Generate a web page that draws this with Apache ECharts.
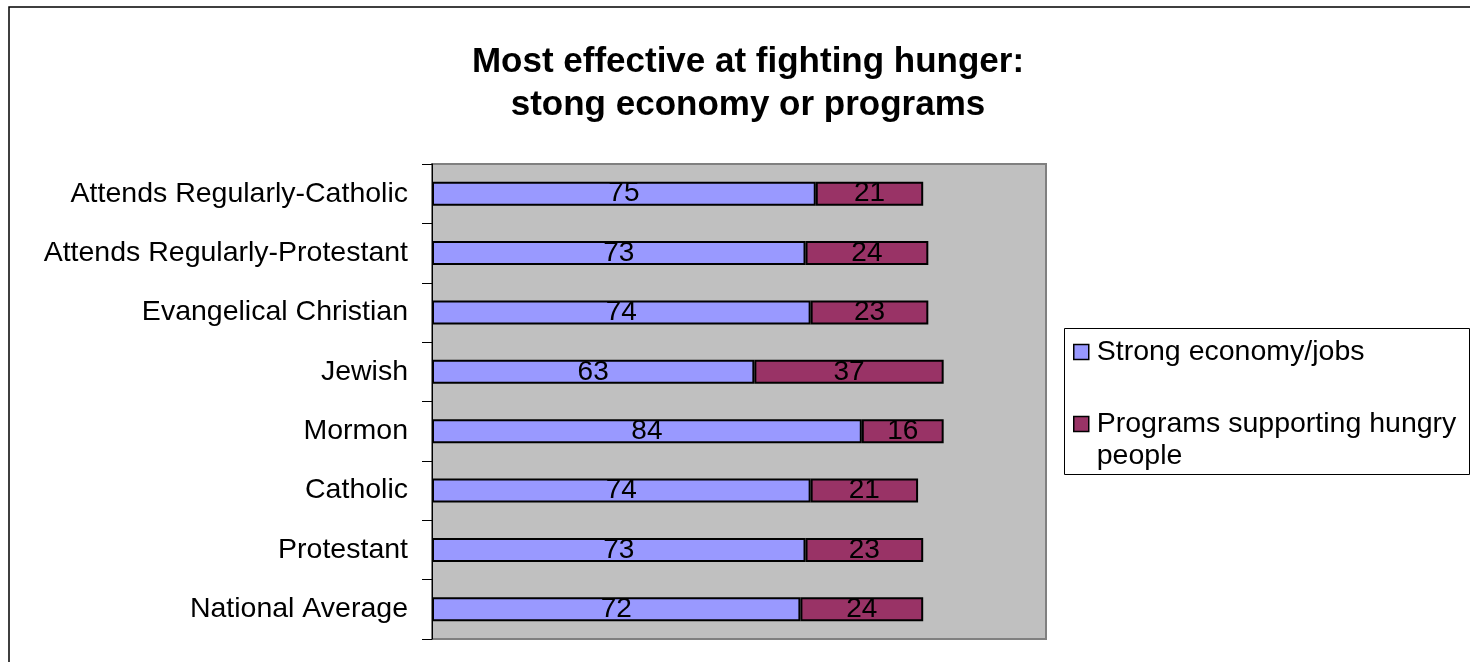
<!DOCTYPE html>
<html>
<head>
<meta charset="utf-8">
<script src="https://cdn.jsdelivr.net/npm/echarts@6/dist/echarts.min.js"></script>
<style>
html,body{margin:0;padding:0;background:#fff;}
#c{width:1470px;height:662px;}
</style>
</head>
<body>
<div id="c"></div>
<script>
const categories = ['National Average','Protestant','Catholic','Mormon','Jewish','Evangelical Christian','Attends Regularly-Protestant','Attends Regularly-Catholic'];
const economyJobs = [72,73,74,84,63,74,73,75];
const programs = [24,23,21,16,37,23,24,21];
const seriesNames = ['Strong economy/jobs','Programs supporting hungry people'];
const titleText = 'Most effective at fighting hunger:\nstong economy or programs';

const FONT = '"Liberation Sans", Arial, Helvetica, sans-serif';
const chart = echarts.init(document.getElementById('c'));
const labelCfg = {show:true, position:'inside', color:'#000', fontSize:28, fontFamily:FONT, offset:[0,0]};
chart.setOption({
  animation:false,
  textStyle:{fontFamily:FONT},
  title:{
    text:titleText, left:748, top:41, textAlign:'center', padding:0,
    textStyle:{fontSize:35, fontWeight:'bold', color:'#000', lineHeight:43, fontFamily:FONT}
  },
  graphic:[
    {type:'rect', shape:{x:9, y:7, width:1480, height:680}, style:{fill:'none', stroke:'#000', lineWidth:1.5}, silent:true, z:-1},
    {type:'rect', shape:{x:1064.5, y:328.5, width:405, height:146}, style:{fill:'#fff', stroke:'#000', lineWidth:1}, silent:true, z:-1}
  ],
  legend:{
    orient:'vertical', left:1073, top:336, padding:0, itemWidth:15, itemHeight:15, itemGap:8,
    icon:'rect',
    itemStyle:{borderColor:'#000', borderWidth:1.5},
    textStyle:{fontSize:28.5, lineHeight:32, color:'#000', fontFamily:FONT, padding:[0,0,0,3]},
    formatter:function(n){ return n === seriesNames[1] ? '\nPrograms supporting hungry\npeople' : n; },
    data:seriesNames
  },
  grid:{left:432, right:424, top:164, bottom:23, show:true, backgroundColor:'#C0C0C0', borderColor:'#808080', borderWidth:2},
  xAxis:{type:'value', min:0, max:120, show:false, splitLine:{show:false}},
  yAxis:{
    type:'category', data:categories,
    axisLine:{show:true, lineStyle:{color:'#000', width:1}},
    axisTick:{show:true, length:10, lineStyle:{color:'#000'}},
    axisLabel:{fontSize:28.5, color:'#000', margin:24, fontFamily:FONT}
  },
  series:[
    {name:seriesNames[0], type:'bar', stack:'s', data:economyJobs, barWidth:24,
     itemStyle:{color:'#9999FF', borderColor:'#000', borderWidth:2}, label:labelCfg},
    {name:seriesNames[1], type:'bar', stack:'s', data:programs, barWidth:24,
     itemStyle:{color:'#993366', borderColor:'#000', borderWidth:2}, label:labelCfg}
  ]
});
</script>
</body>
</html>
